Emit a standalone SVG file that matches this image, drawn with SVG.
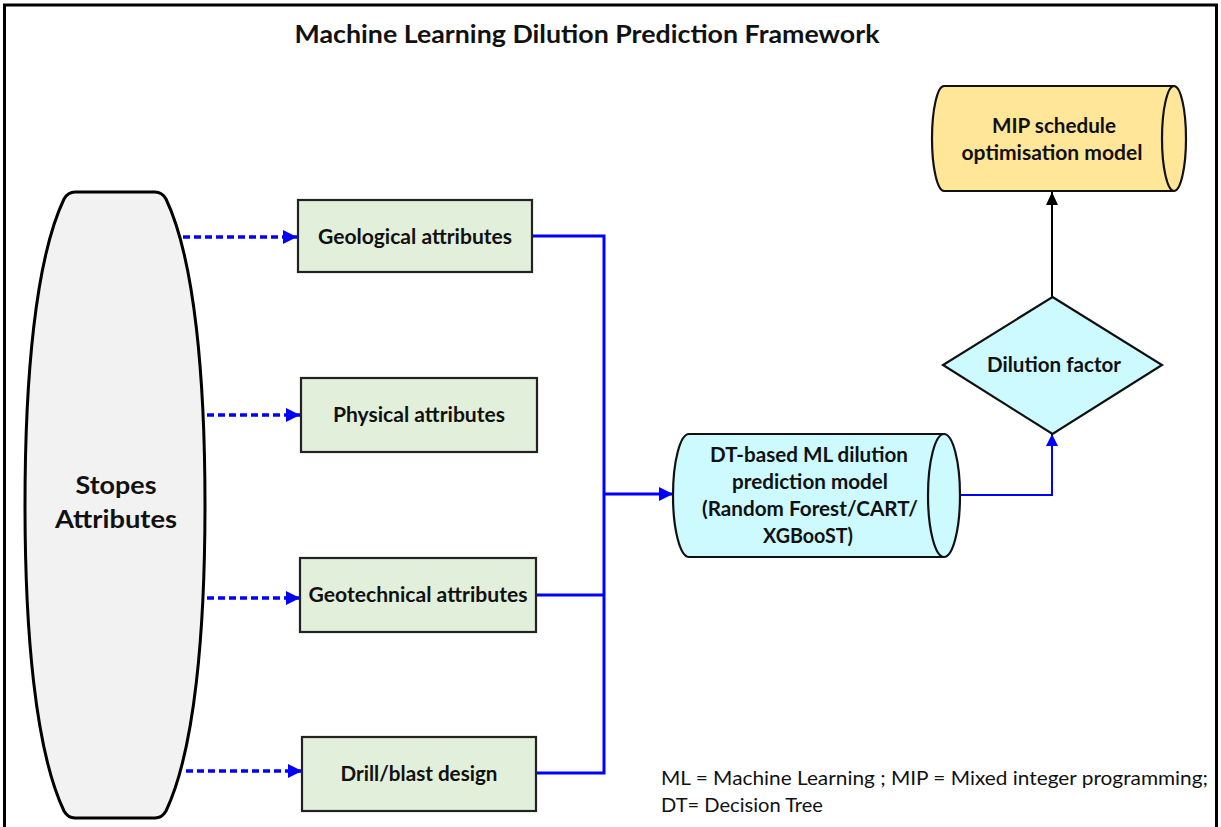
<svg xmlns="http://www.w3.org/2000/svg" width="1221" height="827" viewBox="0 0 1221 827">
<style>
.bold{font-family:Lato,"Open Sans","Liberation Sans",sans-serif;font-weight:bold;fill:#111;text-anchor:middle}
.reg{font-family:Lato,"Open Sans","Liberation Sans",sans-serif;fill:#111}
.box{fill:#E2EFDA;stroke:#222;stroke-width:2.2}
.cyan{fill:#CCFAFF;stroke:#111;stroke-width:2.2}
.blue{fill:none;stroke:#0000FF;stroke-width:3}
.dash{fill:none;stroke:#0000FF;stroke-width:3.5;stroke-dasharray:7 4}
</style>
<defs>
<marker id="ab" markerUnits="userSpaceOnUse" markerWidth="15" markerHeight="14" refX="14" refY="7" orient="auto">
<path d="M0,0 L14,7 L0,14 Z" fill="#0000FF"/>
</marker>
<marker id="abs" markerUnits="userSpaceOnUse" markerWidth="13" markerHeight="12" refX="12" refY="6" orient="auto">
<path d="M0,0 L12,6 L0,12 Z" fill="#0000FF"/>
</marker>
<marker id="ak" markerUnits="userSpaceOnUse" markerWidth="14" markerHeight="12" refX="13" refY="6" orient="auto">
<path d="M0,0 L13,6 L0,12 Z" fill="#000"/>
</marker>
</defs>
<rect x="0" y="0" width="1221" height="827" fill="#fff"/>
<rect x="4.5" y="5" width="1212" height="840" fill="none" stroke="#000" stroke-width="3"/>
<text id="title" class="bold" x="587" y="43" font-size="25" textLength="585" lengthAdjust="spacingAndGlyphs">Machine Learning Dilution Prediction Framework</text>

<g id="connectors">
<path class="dash" d="M183,237 H297" marker-end="url(#ab)"/>
<path class="dash" d="M207,415 H300" marker-end="url(#ab)"/>
<path class="dash" d="M207,598 H300" marker-end="url(#ab)"/>
<path class="dash" d="M186,771 H302" marker-end="url(#ab)"/>
<path class="blue" d="M532,236 H604 V773 H536"/>
<path class="blue" d="M536,595 H604"/>
<path class="blue" d="M604,494 H673" marker-end="url(#ab)"/>
<path fill="none" stroke="#0000FF" stroke-width="2" d="M960,495 H1052 V434" marker-end="url(#abs)"/>
<path fill="none" stroke="#000" stroke-width="2" d="M1052,297 V192" marker-end="url(#ak)"/>
</g>

<g id="stopes">
<path d="M75,192 L155,192 Q162,192 166,199 C195,260 205,380 205,505 C205,630 195,750 166,811 Q162,818 155,818 L75,818 Q68,818 64,811 C35,750 25,630 25,505 C25,380 35,260 64,199 Q68,192 75,192 Z" fill="#F2F2F2" stroke="#000" stroke-width="3"/>
<text class="bold" x="116" y="494" font-size="25" textLength="81" lengthAdjust="spacingAndGlyphs">Stopes</text>
<text class="bold" x="116" y="528" font-size="25" textLength="122" lengthAdjust="spacingAndGlyphs">Attributes</text>
</g>

<g id="geological">
<rect class="box" x="298" y="200" width="234" height="72"/>
<text class="bold" x="415" y="244" font-size="20" textLength="194" lengthAdjust="spacingAndGlyphs">Geological attributes</text>
</g>
<g id="physical">
<rect class="box" x="301" y="378" width="236" height="74"/>
<text class="bold" x="419" y="422" font-size="20" textLength="172" lengthAdjust="spacingAndGlyphs">Physical attributes</text>
</g>
<g id="geotechnical">
<rect class="box" x="300" y="558" width="236" height="74"/>
<text class="bold" x="418" y="602" font-size="20" textLength="219" lengthAdjust="spacingAndGlyphs">Geotechnical attributes</text>
</g>
<g id="drill">
<rect class="box" x="302" y="737" width="234" height="74"/>
<text class="bold" x="419" y="781" font-size="20" textLength="157" lengthAdjust="spacingAndGlyphs">Drill/blast design</text>
</g>

<g id="dtmodel">
<path class="cyan" d="M689,434 L944,434 A16,61.5 0 0 1 944,557 L689,557 A16,61.5 0 0 1 689,434 Z"/>
<path fill="none" stroke="#111" stroke-width="2.2" d="M944,434 A16,61.5 0 0 0 944,557"/>
<text class="bold" x="809" y="462" font-size="20" textLength="198" lengthAdjust="spacingAndGlyphs">DT-based ML dilution</text>
<text class="bold" x="810" y="489" font-size="20" textLength="156" lengthAdjust="spacingAndGlyphs">prediction model</text>
<text class="bold" x="810" y="516" font-size="20" textLength="216" lengthAdjust="spacingAndGlyphs">(Random Forest/CART/</text>
<text class="bold" x="808" y="543" font-size="20" textLength="90" lengthAdjust="spacingAndGlyphs">XGBooST)</text>
</g>

<g id="dilution">
<path class="cyan" d="M1052.5,297 L1162,365 L1052.5,434 L943,365 Z"/>
<text class="bold" x="1054" y="372" font-size="20" textLength="134" lengthAdjust="spacingAndGlyphs">Dilution factor</text>
</g>

<g id="mip">
<path d="M944,86 L1174,86 A12,52.5 0 0 1 1174,191 L944,191 A12,52.5 0 0 1 944,86 Z" fill="#FFE699" stroke="#111" stroke-width="2.2"/>
<path fill="none" stroke="#111" stroke-width="2.2" d="M1174,86 A12,52.5 0 0 0 1174,191"/>
<text class="bold" x="1054" y="133" font-size="20" textLength="124" lengthAdjust="spacingAndGlyphs">MIP schedule</text>
<text class="bold" x="1052" y="160" font-size="20" textLength="181" lengthAdjust="spacingAndGlyphs">optimisation model</text>
</g>

<g id="legend">
<text class="reg" x="661" y="785" font-size="19" textLength="547" lengthAdjust="spacingAndGlyphs">ML = Machine Learning ; MIP = Mixed integer programming;</text>
<text class="reg" x="661" y="812" font-size="19" textLength="162" lengthAdjust="spacingAndGlyphs">DT= Decision Tree</text>
</g>
</svg>
